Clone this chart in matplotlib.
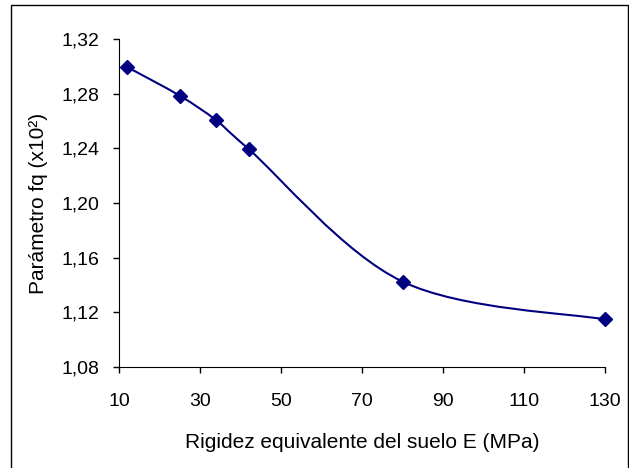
#!/usr/bin/env python3

import matplotlib
matplotlib.use("Agg")
import matplotlib.pyplot as plt
from matplotlib.path import Path
from matplotlib.patches import PathPatch, Rectangle
from matplotlib.ticker import FuncFormatter
import numpy as np

plt.rcParams['font.family'] = ['Liberation Sans', 'DejaVu Sans']
plt.rc('font', size=14)

rigidez = [12, 25, 34, 42, 80, 130]
fq = [1.2995, 1.2785, 1.2605, 1.2395, 1.1425, 1.1148]

x_ticks = [10, 30, 50, 70, 90, 110, 130]
y_ticks = [1.08, 1.12, 1.16, 1.20, 1.24, 1.28, 1.32]

color = "#000080"


def smooth_path(x, y):
    # Excel-like smoothed line: Catmull-Rom segments as cubic Beziers
    pts = np.column_stack([x, y])
    n = len(pts)
    verts = [pts[0]]
    codes = [Path.MOVETO]
    for i in range(n - 1):
        p0 = pts[i - 1] if i > 0 else pts[i]
        p1 = pts[i]
        p2 = pts[i + 1]
        p3 = pts[i + 2] if i + 2 < n else pts[i + 1]
        c1 = p1 + (p2 - p0) / 6.0
        c2 = p2 - (p3 - p1) / 6.0
        verts += [c1, c2, p2]
        codes += [Path.CURVE4] * 3
    return Path(verts, codes)


def plot_fq():
    fig = plt.figure(figsize=(6.29, 4.68), dpi=100)
    ax = fig.add_axes([119 / 629, 1 - 367 / 468, 486 / 629, 328 / 468])

    ax.add_patch(PathPatch(smooth_path(rigidez, fq), facecolor='none',
                           edgecolor=color, linewidth=1.5))
    ax.plot(rigidez, fq, linestyle='none', marker='D', markersize=7.5,
            color=color, clip_on=False)

    ax.set_xlim(10, 130)
    ax.set_ylim(1.08, 1.32)
    ax.set_xticks(x_ticks)
    ax.set_yticks(y_ticks)
    ax.yaxis.set_major_formatter(FuncFormatter(lambda v, p: f"{v:.2f}".replace('.', ',')))
    ax.spines['top'].set_visible(False)
    ax.spines['right'].set_visible(False)
    ax.tick_params(direction='out', length=4, width=1, labelsize=14)
    ax.tick_params(axis='y', pad=10)
    ax.tick_params(axis='x', pad=15)

    ax.set_xlabel("Rigidez equivalente del suelo E (MPa)", fontsize=15, labelpad=16)
    ax.set_ylabel("Parámetro fq (x10²)", fontsize=15, labelpad=10)

    fig.patches.append(Rectangle((11 / 629, -0.05), 617 / 629, 1.05 - 5 / 468,
                                 transform=fig.transFigure, fill=False,
                                 edgecolor='black', linewidth=1))

    plt.savefig('out.png', dpi=100)
    plt.clf()


if __name__ == "__main__":
    plot_fq()
